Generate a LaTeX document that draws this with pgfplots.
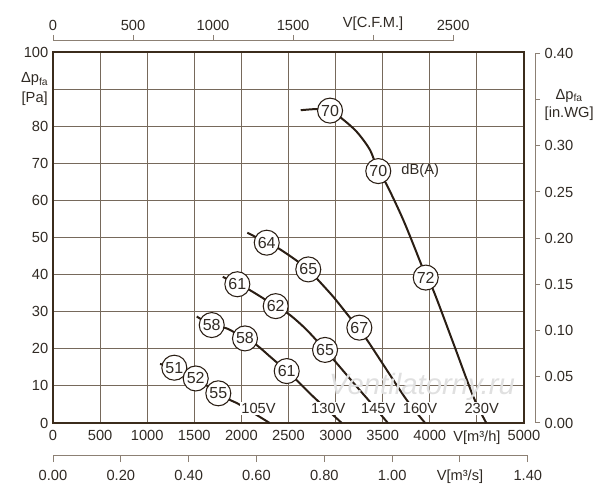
\documentclass[border=0pt]{standalone}
\usepackage{fontspec}
\setmainfont{Liberation Sans}
\usepackage{pgfplots}
\pgfplotsset{compat=1.18}
\definecolor{framec}{HTML}{3B2C1C}
\definecolor{gridc}{HTML}{76695B}
\definecolor{txt}{HTML}{302A24}
\definecolor{curve}{HTML}{2A1E14}
\definecolor{secax}{HTML}{8C8074}
\tikzset{
  lbl/.style={font=\fontsize{11}{12}\selectfont, text=txt},
  bub/.style={circle, draw=curve, line width=0.8pt, fill=white, minimum size=18.75pt, inner sep=0pt, font=\fontsize{12}{12}\selectfont, text=txt},
}
\pgfplotsset{
  crv/.style={curve, line width=1.5pt, smooth, tension=0.5},
  bubbles/.style={only marks, mark=*, mark size=0.1pt, mark options={draw=none, fill=none},
    point meta=explicit symbolic, nodes near coords,
    every node near coord/.append style={bub, anchor=center}},
  vlabels/.style={only marks, mark=*, mark size=0.1pt, mark options={draw=none, fill=none},
    point meta=explicit symbolic, nodes near coords,
    every node near coord/.append style={lbl, fill=white, inner sep=1pt, anchor=center}},
}
\begin{document}
\begin{tikzpicture}[x=1pt,y=1pt]
\path[use as bounding box] (0,0) rectangle (450,375);
% main axis
\begin{axis}[
  at={(39.75pt,57.75pt)}, anchor=south west,
  scale only axis, width=353.25pt, height=278.25pt,
  xmin=0, xmax=5000, ymin=0, ymax=100,
  xtick={0,500,...,5000},
  xticklabels={0,500,1000,1500,2000,2500,3000,3500,4000,{V[m³/h]},5000},
  xticklabel style={yshift=-2.25pt},
  ytick={0,10,...,100},
  yticklabels={0,10,20,30,40,50,60,70,80,{Δp\textsubscript{fa}\\[3pt]{[Pa]}},100},
  yticklabel style={align=center},
  grid=major,
  major grid style={gridc, line width=0.75pt},
  axis line style={framec, line width=2.2pt},
  major tick length=0pt,
  tick label style={lbl},
  clip=false,
]
\addplot[crv] coordinates {(2630,84.3) (2790,84.6) (2941,84.2) (3065,82.1) (3224,78.5) (3365,73.6) (3453,67.9) (3543,64.2) (3719,54.7) (3896,43.6) (3957,39.6) (4037,35.8) (4250,21.5) (4462,7.1) (4600,0)};
\addplot[crv] coordinates {(2063,51.3) (2269,48.6) (2392,47.1) (2551,44.4) (2710,41.4) (2816,38.5) (2976,34.0) (3118,29.5) (3252,25.2) (3347,21.9) (3543,14.3) (3755,6.2) (3950,0)};
\addplot[crv] coordinates {(1802,39.4) (1957,37.4) (2091,35.8) (2364,31.5) (2516,29.1) (2693,25.1) (2888,19.7) (3012,16.1) (3224,9.8) (3365,5.7) (3555,0)};
\addplot[crv] coordinates {(1526,28.7) (1685,26.4) (1844,25.5) (2038,22.8) (2162,21.0) (2304,17.9) (2481,14.0) (2604,11.1) (2763,7.1) (3065,0)};
\addplot[crv] coordinates {(1136,15.9) (1288,14.9) (1515,12.0) (1755,8.0) (1879,6.2) (1985,4.9) (2300,0)};
\node[lbl, text=black!12, font=\fontsize{22}{22}\selectfont\itshape] at (axis cs:3917,9.7) {Ventilatorny.ru};
\addplot[vlabels] coordinates {(2182,3.8)[105V] (2923,3.8)[130V] (3453,3.8)[145V] (3896,3.8)[160V] (4551,3.8)[230V]};
\addplot[bubbles] coordinates {(2941,84.2)[70] (3453,67.9)[70] (3957,39.2)[72]
 (2269,48.6)[64] (2710,41.4)[65] (3252,25.7)[67]
 (1957,37.4)[61] (2364,31.5)[62] (2888,19.7)[65]
 (1685,26.4)[58] (2038,22.8)[58] (2481,14.0)[61]
 (1288,14.9)[51] (1515,12.0)[52] (1755,8.0)[55]};
\node[lbl, anchor=west] at (axis cs:3649,67.9) {dB(A)};
\end{axis}
% top CFM axis
\begin{axis}[
  at={(39.75pt,344.25pt)}, anchor=north west,
  scale only axis, width=300.1pt, height=10pt,
  xmin=0, xmax=2500, ymin=0, ymax=1,
  axis x line*=top, axis y line=none,
  xtick={0,500,1000,1500,2000,2500},
  xticklabels={0,500,1000,1500,{V[C.F.M.]},2500},
  tick align=outside, major tick length=4.5pt,
  axis line style={secax, line width=0.75pt},
  tick style={secax, line width=0.75pt},
  tick label style={lbl},
]
\addplot[draw=none] coordinates {(0,0)};
\end{axis}
% right in.WG axis
\begin{axis}[
  at={(401.25pt,57.75pt)}, anchor=south east,
  scale only axis, width=10pt, height=277.2pt,
  xmin=0, xmax=1, ymin=0, ymax=0.40,
  axis y line*=right, axis x line=none,
  ytick={0,0.05,0.10,0.15,0.20,0.25,0.30,0.40},
  yticklabels={0.00,0.05,0.10,0.15,0.20,0.25,0.30,0.40},
  extra y ticks={0.35},
  extra y tick labels={{Δp\textsubscript{fa}\\[2pt]{[in.WG]}}},
  extra y tick style={yticklabel style={align=center, yshift=-4pt}},
  tick align=outside, major tick length=3.75pt,
  axis line style={secax, line width=0.75pt},
  tick style={secax, line width=0.75pt},
  tick label style={lbl},
]
\addplot[draw=none] coordinates {(0,0)};
\end{axis}
% bottom m3/s axis
\begin{axis}[
  at={(39.75pt,33pt)}, anchor=south west,
  scale only axis, width=356.1pt, height=10pt,
  xmin=0, xmax=1.40, ymin=0, ymax=1,
  axis x line*=bottom, axis y line=none,
  xtick={0,0.2,0.4,0.6,0.8,1.0,1.2,1.4},
  xticklabels={0.00,0.20,0.40,0.60,0.80,1.00,{V[m³/s]},1.40},
  xticklabel style={yshift=-2.5pt},
  tick align=outside, major tick length=4.5pt,
  axis line style={secax, line width=0.75pt},
  tick style={secax, line width=0.75pt},
  tick label style={lbl},
]
\addplot[draw=none] coordinates {(0,0)};
\end{axis}
\end{tikzpicture}
\end{document}
